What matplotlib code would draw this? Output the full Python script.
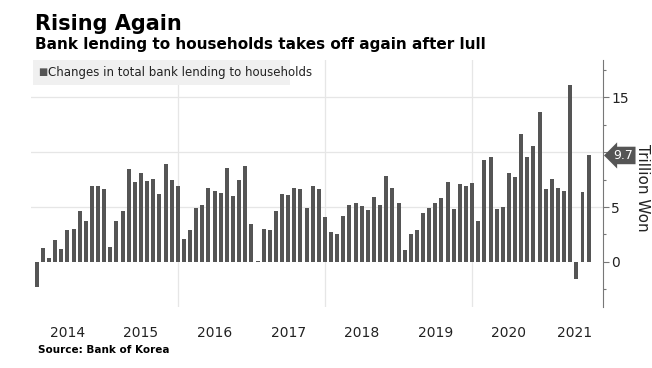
import numpy as np
import pandas as pd
import matplotlib.pyplot as plt
from matplotlib.ticker import MultipleLocator
from matplotlib.patches import Rectangle

# monthly change in bank lending to households, trillion won (Jan 2014 - Jul 2021)
months = pd.date_range('2014-01-01', '2021-07-01', freq='MS')
lending = [
    -2.3, 1.3, 0.4, 2.0, 1.2, 2.9, 3.0, 4.6, 3.7, 6.9, 6.9, 6.6,   # 2014
    1.4, 3.7, 4.6, 8.5, 7.3, 8.1, 7.4, 7.6, 6.2, 8.9, 7.5, 6.9,   # 2015
    2.1, 2.9, 4.9, 5.2, 6.7, 6.5, 6.3, 8.6, 6.0, 7.5, 8.7, 3.5,   # 2016
    0.05, 3.0, 2.9, 4.6, 6.2, 6.1, 6.7, 6.6, 4.9, 6.9, 6.6, 4.1,  # 2017
    2.7, 2.5, 4.2, 5.2, 5.4, 5.1, 4.7, 5.9, 5.2, 7.8, 6.7, 5.4,   # 2018
    1.1, 2.5, 2.9, 4.5, 4.9, 5.4, 5.8, 7.3, 4.8, 7.1, 6.9, 7.2,   # 2019
    3.7, 9.3, 9.6, 4.8, 5.0, 8.1, 7.7, 11.7, 9.6, 10.6, 13.7, 6.6,  # 2020
    7.6, 6.7, 6.5, 16.1, -1.6, 6.4, 9.7,                           # 2021
]
years = [2014, 2015, 2016, 2017, 2018, 2019, 2020, 2021]
latest_label = '9.7'

# bars sit at month end, like the original
x = np.array([d.year + d.month / 12 for d in months])

bar_color = '#555555'
grid_color = '#e6e6e6'
text_color = '#222222'

fig = plt.figure(figsize=(6.52, 3.68), dpi=100)
ax = fig.add_axes([0.047, 0.166, 0.878, 0.671])

ax.bar(x, lending, width=0.65 / 12, color=bar_color, zorder=3)

x_left, x_right = 2014.0, 2021.78
ax.set_xlim(x_left, x_right)
ax.set_ylim(-4.1, 18.4)

# year labels centred in the visible part of each year
centers = [min(y + 1, x_right) / 2 + max(y, x_left) / 2 for y in years]
ax.set_xticks(centers)
ax.set_xticklabels([str(y) for y in years])
ax.tick_params(axis='x', length=0, pad=14, labelsize=10, labelcolor=text_color)
for xv in [2016, 2018, 2020]:
    ax.axvline(xv, color=grid_color, lw=0.9, zorder=0)

ax.yaxis.tick_right()
ax.set_yticks([0, 5, 10, 15])
ax.set_yticklabels(['0', '5', '', '15'])
ax.yaxis.set_minor_locator(MultipleLocator(2.5))
ax.tick_params(axis='y', which='major', direction='out', length=4, width=0.8,
               color='#777777', labelsize=10, labelcolor=text_color, pad=2)
ax.tick_params(axis='y', which='minor', direction='out', length=2.5, width=0.8,
               color='#777777')
for yv in [5, 10, 15]:
    ax.axhline(yv, color=grid_color, lw=0.9, zorder=0)

for s in ['top', 'left', 'bottom']:
    ax.spines[s].set_visible(False)
ax.spines['right'].set_color('#777777')
ax.spines['right'].set_linewidth(0.8)

# latest value tag
ax.text(1.018, lending[-1], latest_label, transform=ax.get_yaxis_transform(),
        color='white', fontsize=9, va='center', ha='left',
        bbox=dict(boxstyle='larrow,pad=0.18', fc=bar_color, ec='none'))

fig.text(0.986, 0.49, 'Trillion Won', rotation=270, fontsize=11,
         color=text_color, va='center', ha='center')

# legend strip
fig.patches.append(Rectangle((0.05, 0.768), 0.395, 0.07, transform=fig.transFigure,
                             facecolor='#f0f0f0', edgecolor='none', zorder=0))
fig.text(0.058, 0.803, '\u25a0', fontsize=7, color=bar_color, va='center')
fig.text(0.073, 0.803, 'Changes in total bank lending to households',
         fontsize=8.5, color=text_color, va='center')

fig.text(0.054, 0.918, 'Rising Again', fontsize=15, fontweight='bold', color='black')
fig.text(0.054, 0.868, 'Bank lending to households takes off again after lull',
         fontsize=11, fontweight='bold', color='black')
fig.text(0.058, 0.04, 'Source: Bank of Korea', fontsize=7.5, fontweight='bold',
         color='black')

fig.savefig('out.png', dpi=100)
